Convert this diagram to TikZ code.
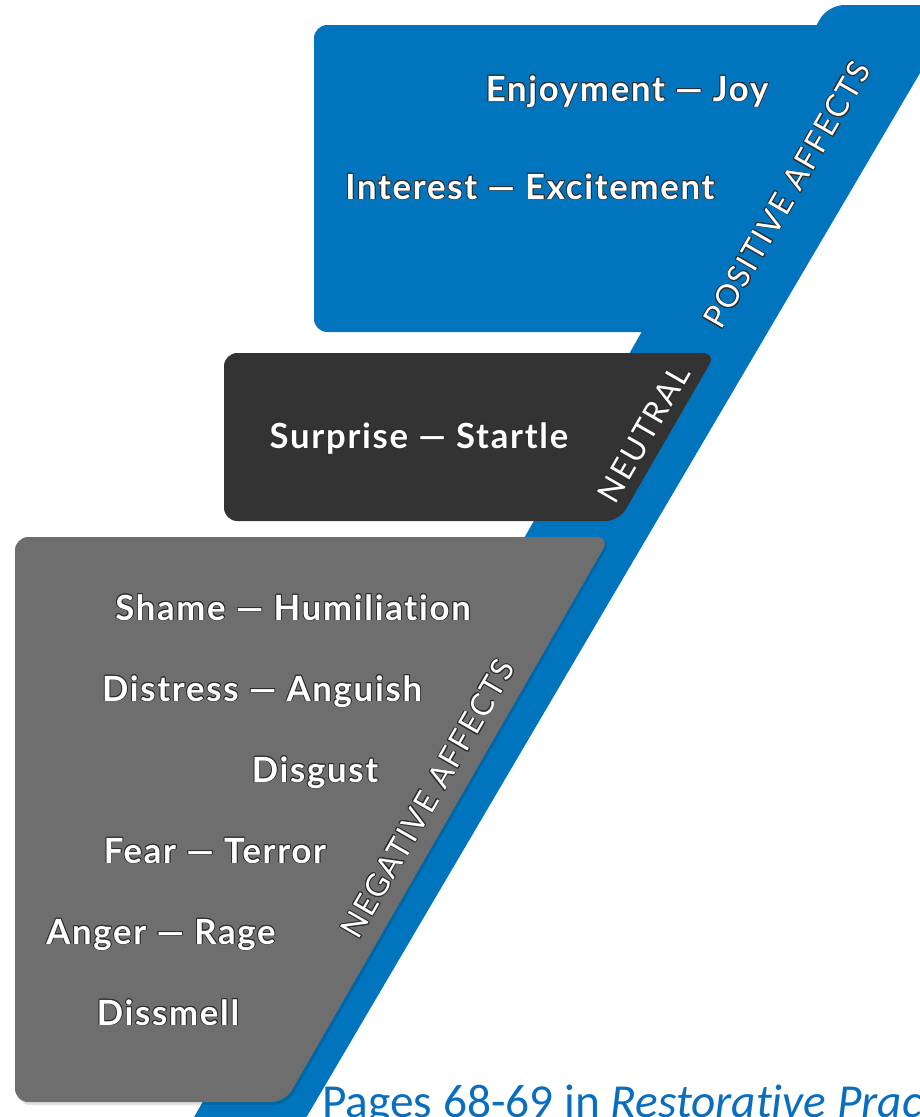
\documentclass[tikz,border=0pt]{standalone}
\usepackage{fontspec}
\setmainfont{Lato}[Ligatures=CommonOff]
\newfontfamily\labelfont{Lato}[Ligatures=CommonOff, LetterSpace=5]
\newfontfamily\bandfont{Lato}[Ligatures=CommonOff, LetterSpace=6]
\newfontfamily\footfont{Carlito}[Ligatures=CommonOff]
\usepackage[copies]{contour}
\contourlength{0.6pt}
\definecolor{bandblue}{RGB}{0,117,190}
\definecolor{neutralbox}{RGB}{51,51,51}
\definecolor{negbox}{RGB}{110,110,110}
\definecolor{outl}{RGB}{45,45,45}
\definecolor{footblue}{RGB}{10,110,190}
\tikzset{
  affect/.style={text=white, inner sep=0pt, anchor=base,
    font=\labelfont\bfseries\fontsize{26}{30}\selectfont},
  grouplabel/.style={text=white, inner sep=0pt, rotate=60,
    font=\bandfont\fontsize{23.5}{28}\selectfont},
  panel/.style={rounded corners=10}
}
\begin{document}
\begin{tikzpicture}[x=0.75pt,y=-0.75pt]
\useasboundingbox (0,0) rectangle (920,1117);
\clip (0,0) rectangle (920,1117);

% slanted blue band
\fill[bandblue, rounded corners=12] (828,5) -- (960,5) -- (293,1140) -- (181,1140) -- cycle;

% positive affects panel (merges into the band)
\fill[bandblue, panel] (314,25) -- (904,25) -- (728,332) -- (314,332) -- cycle;

% neutral panel
\fill[neutralbox, panel] (224,353) -- (716,353) -- (619,521) -- (224,521) -- cycle;

% negative affects panel, with a faint shadow
\fill[black, opacity=0.12, panel] (17,539) -- (612,539) -- (287,1105) -- (17,1105) -- cycle;
\fill[negbox, panel] (15,537) -- (610,537) -- (285,1102) -- (15,1102) -- cycle;

% affect names
\node[affect] (joy)    at (627,101)  {\contour{outl}{Enjoyment — Joy}};
\node[affect] (excite) at (530,199)  {\contour{outl}{Interest — Excitement}};
\node[affect] (startle) at (419,448) {\contour{outl}{Surprise — Startle}};
\node[affect] (shame)  at (293,620)  {\contour{outl}{Shame — Humiliation}};
\node[affect] (anguish) at (262,701) {\contour{outl}{Distress — Anguish}};
\node[affect] (disgust) at (315,782) {\contour{outl}{Disgust}};
\node[affect] (terror) at (215,863)  {\contour{outl}{Fear — Terror}};
\node[affect] (rage)   at (161,944)  {\contour{outl}{Anger — Rage}};
\node[affect] (dissmell) at (168,1025) {\contour{outl}{Dissmell}};

% group labels along the band
\node[grouplabel] (positive) at (787,195) {\contour{outl}{POSITIVE AFFECTS}};
\node[grouplabel] (neutral)  at (644,434) {\contour{outl}{NEUTRAL}};
\node[grouplabel] (negative) at (428,799) {\contour{outl}{NEGATIVE AFFECTS}};

% source line
\node[anchor=base west, inner sep=0pt, text=footblue,
      font=\footfont\fontsize{35.5}{40}\selectfont] (source) at (322,1117)
      {Pages 68-69 in \textit{Restorative Prac}};
\end{tikzpicture}
\end{document}
